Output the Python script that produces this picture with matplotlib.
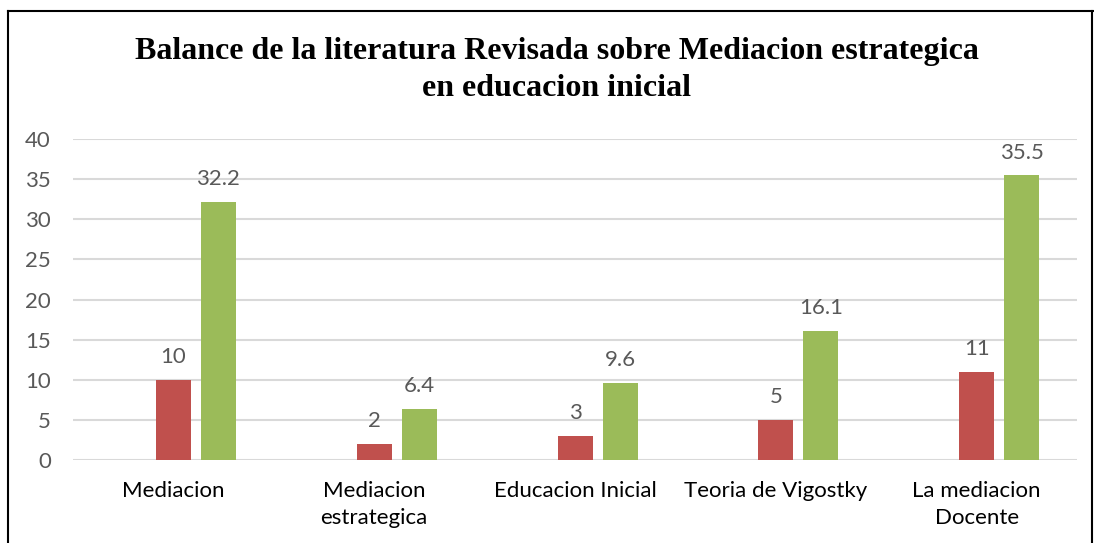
import numpy as np
import matplotlib.pyplot as plt

categorias = ['Mediacion', 'Mediacion\nestrategica', 'Educacion Inicial',
              'Teoria de Vigostky', 'La mediacion\nDocente']
cantidad = [10, 2, 3, 5, 11]
porcentaje = [32.2, 6.4, 9.6, 16.1, 35.5]
yticks = [0, 5, 10, 15, 20, 25, 30, 35, 40]

rojo = '#C0504D'
verde = '#9BBB59'
gris = '#595959'
fuente = 'Lato'
tam = 16

fig = plt.figure(figsize=(10.94, 5.43), dpi=100)
ax = fig.add_axes([73/1094, 1-460/543, (1077-73)/1094, (460-139)/543])

x = np.arange(len(categorias))
w = 35/200.8
off = 45/200.8
b1 = ax.bar(x, cantidad, w, color=rojo, zorder=3)
b2 = ax.bar(x + off, porcentaje, w, color=verde, zorder=3)

for bars, vals in [(b1, cantidad), (b2, porcentaje)]:
    for b, v in zip(bars, vals):
        ax.annotate(f'{v:g}', (b.get_x() + b.get_width()/2, v),
                    xytext=(0, 9), textcoords='offset points',
                    ha='center', va='bottom', fontsize=tam,
                    color=gris, family=fuente)

ax.set_xlim(-0.5, len(categorias) - 0.5)
ax.set_ylim(0, 40)
ax.set_yticks(yticks)
ax.set_xticks(x)
ax.set_xticklabels(categorias, fontsize=tam, color='black', family=fuente,
                   linespacing=1.45)
for lab in ax.get_yticklabels():
    lab.set_fontsize(tam)
    lab.set_color(gris)
    lab.set_family(fuente)
ax.tick_params(axis='both', length=0)
ax.tick_params(axis='y', pad=16)
ax.tick_params(axis='x', pad=15)
ax.yaxis.grid(True, color='#D9D9D9', linewidth=1.5, zorder=0)
for s in ax.spines.values():
    s.set_visible(False)

fig.text(557/1094, 1-51/543, 'Balance de la literatura Revisada sobre Mediacion estrategica',
         ha='center', va='center', fontsize=23, fontweight='bold',
         family='Liberation Serif')
fig.text(557/1094, 1-89/543, 'en educacion inicial',
         ha='center', va='center', fontsize=23, fontweight='bold',
         family='Liberation Serif')

# marco
fig.add_artist(plt.Line2D([8/1094, 8/1094], [0, 1-11/543], color='black', lw=1.5))
fig.add_artist(plt.Line2D([8/1094, 1], [1-11/543, 1-11/543], color='black', lw=1.5))
fig.add_artist(plt.Line2D([1092/1094, 1092/1094], [0, 1-11/543], color='black', lw=1.5))

fig.savefig('out.png', dpi=100)
